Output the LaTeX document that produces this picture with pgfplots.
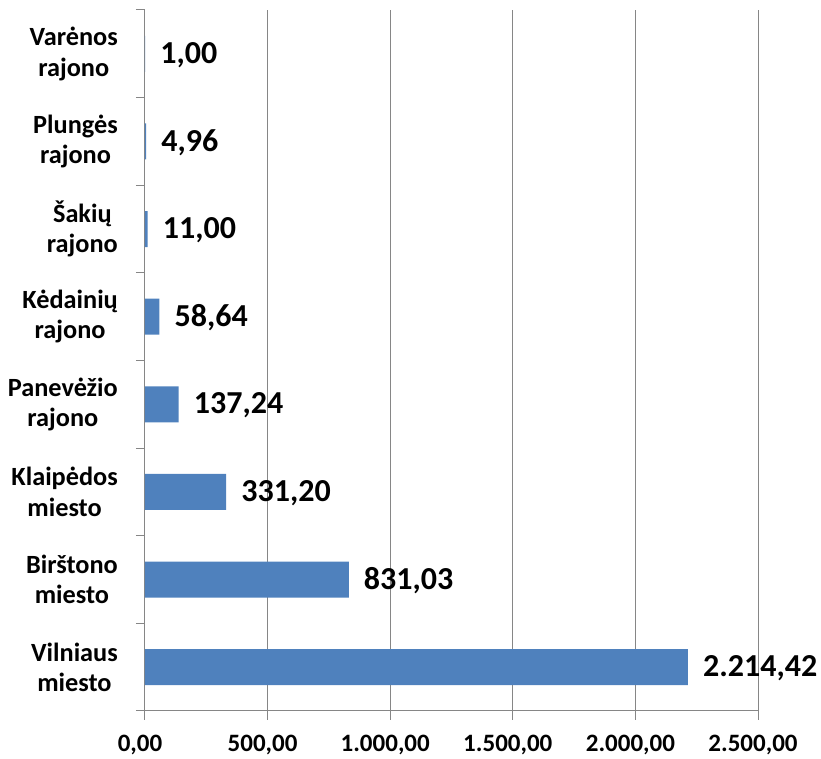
\documentclass[border=0pt]{standalone}
\usepackage{fontspec}
\setmainfont{Carlito}
\usepackage{pgfplots}
\pgfplotsset{compat=1.18}
\usepackage{pgfplotstable}
\definecolor{barblue}{HTML}{4F81BD}
\definecolor{axgray}{HTML}{868686}
\pgfplotstableread{
y x label
0 2214.42 2.214,42
1 831.03 831,03
2 331.20 331,20
3 137.24 137,24
4 58.64 58,64
5 11.00 11,00
6 4.96 4,96
7 1.00 1,00
}\data
\begin{document}
\begin{tikzpicture}
\begin{axis}[name=ax, xbar, width=613pt, height=701pt, scale only axis,
 clip=false,
 xmin=0, xmax=2500, ymin=-0.5, ymax=7.5,
 axis x line*=bottom, axis y line*=left,
 axis line style={axgray, line width=1pt, -},
 xtick={0,500,...,2500},
 xticklabels={{0,00},{500,00},{1.000,00},{1.500,00},{2.000,00},{2.500,00}},
 xmajorgrids, grid style={axgray, line width=1pt},
 ytick={0,...,7},
 yticklabels={{Vilniaus\\miesto},{Birštono\\miesto},{Klaipėdos\\miesto},{Panevėžio\\rajono},{Kėdainių\\rajono},{Šakių\\rajono},{Plungės\\rajono},{Varėnos\\rajono}},
 minor ytick={-0.5,0.5,...,7.5},
 tick align=outside, major tick length=9pt, minor tick length=9pt,
 tick style={axgray, line width=1pt},
 major y tick style={draw=none},
 yticklabel style={font=\bfseries\fontsize{26.3}{30.5}\selectfont, align=center, anchor=east, inner sep=0pt, xshift=-18pt},
 xticklabel style={font=\bfseries\fontsize{25}{30}\selectfont, yshift=-12pt, xshift=-5pt},
]
\addplot[fill=barblue, draw=none, bar width=36pt, bar shift=0pt,
 nodes near coords, point meta=explicit symbolic,
 nodes near coords style={anchor=west, font=\bfseries\fontsize{32}{32}\selectfont, inner sep=0pt, xshift=15pt, yshift=-1pt, text=black}]
 table[x=x, y=y, meta=label]{\data};
\end{axis}
\pgfresetboundingbox
\path ([shift={(-145pt,-48pt)}]ax.south west) rectangle ([shift={(63pt,10pt)}]ax.north east);
\end{tikzpicture}
\end{document}
